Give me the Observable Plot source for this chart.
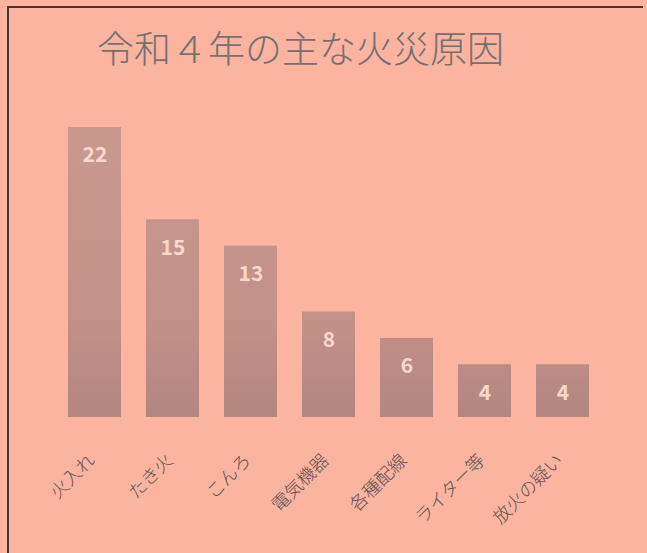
<!DOCTYPE html>
<html>
<head>
<meta charset="utf-8">
<script src="https://cdn.jsdelivr.net/npm/d3@7"></script>
<script src="https://cdn.jsdelivr.net/npm/@observablehq/plot@0.6"></script>
<style>
  html, body { margin: 0; padding: 0; background: #fab4a0; overflow: hidden; }
  #wrap { position: relative; width: 647px; height: 553px; overflow: hidden; background: #fab4a0; }
  #hline { position: absolute; left: 7px; top: 6px; width: 636px; height: 2px; background: #4e3430; }
  #vline { position: absolute; left: 7px; top: 6px; width: 2px; height: 547px; background: #4e3430; }
  #title { position: absolute; left: 97px; top: 29px; font-family: "Noto Sans CJK JP", sans-serif;
           font-size: 37px; line-height: 37px; color: #747070; font-weight: 300; white-space: nowrap; }
  #chart { position: absolute; left: 0; top: 90px; }
</style>
</head>
<body>
<div id="wrap">
  <div id="hline"></div>
  <div id="vline"></div>
  <div id="title">令和４年の主な火災原因</div>
  <div id="chart"></div>
</div>
<script>
const categories = ["火入れ", "たき火", "こんろ", "電気機器", "各種配線", "ライター等", "放火の疑い"];
const counts = [22, 15, 13, 8, 6, 4, 4];
const data = categories.map((c, i) => ({cause: c, count: counts[i]}));

const chart = Plot.plot({
  width: 647,
  height: 463,
  marginLeft: 40,
  marginRight: 29,
  marginTop: 37,
  marginBottom: 136,
  style: {background: "transparent", fontFamily: "'Noto Sans CJK JP', sans-serif", overflow: "visible"},
  x: {domain: categories, padding: 0.32, axis: null},
  y: {domain: [0, 22], axis: null},
  marks: [
    Plot.barY(data, {x: "cause", y: "count", fill: "url(#barGrad)"}),
    Plot.text(data, {x: "cause", y: "count", text: d => String(d.count), dy: 28,
      fill: "#f8d8cd", fontSize: 21, fontWeight: "bold"}),
    Plot.axisX({tickRotate: -45, tickSize: 0, tickPadding: 40, dx: -3, fontSize: 18,
      fill: "#5e5050", fontWeight: 300, label: null})
  ]
});

const svg = d3.select(chart);
const grad = svg.insert("defs", ":first-child").append("linearGradient")
  .attr("id", "barGrad").attr("gradientUnits", "userSpaceOnUse")
  .attr("x1", 0).attr("y1", 37).attr("x2", 0).attr("y2", 327);
grad.append("stop").attr("offset", "0%").attr("stop-color", "#c9998e");
grad.append("stop").attr("offset", "70%").attr("stop-color", "#c19086");
grad.append("stop").attr("offset", "100%").attr("stop-color", "#b2877e");

document.getElementById("chart").appendChild(chart);
</script>
</body>
</html>
